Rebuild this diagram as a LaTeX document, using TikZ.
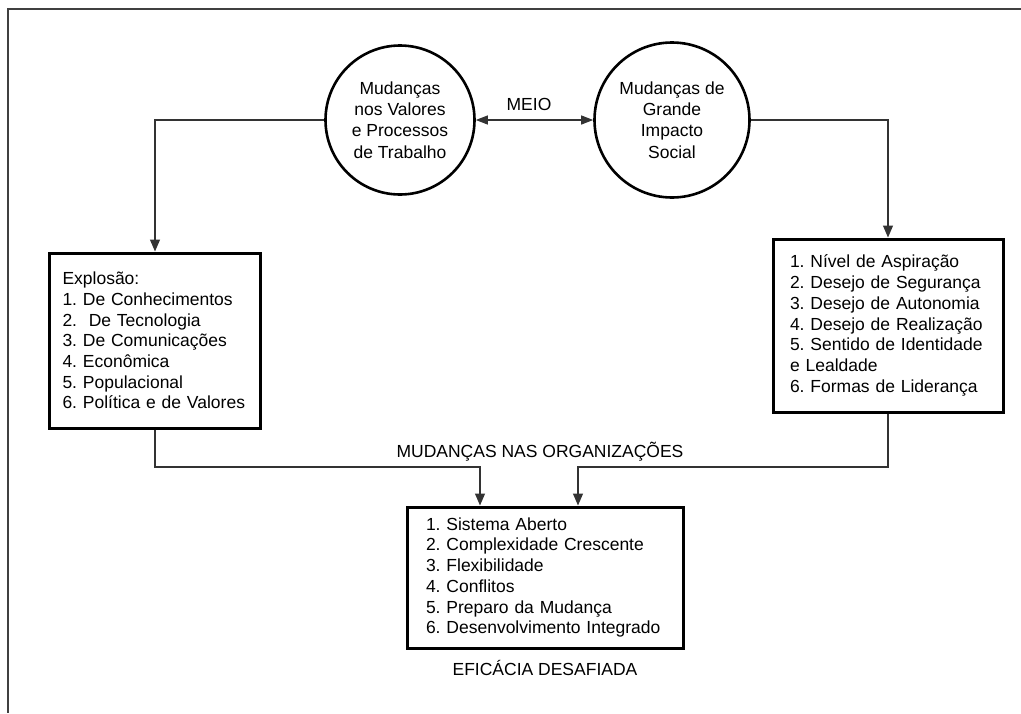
\documentclass[tikz,border=0pt]{standalone}
\usepackage{fontspec}
\setmainfont{Liberation Sans}
\usetikzlibrary{arrows.meta}
\frenchspacing
\tikzset{
  boxnode/.style={draw=black, line width=3pt, rectangle, align=left, font=\frenchspacing\fontsize{17.5}{20.7}\selectfont},
  circnode/.style={draw=black, line width=2.6pt, circle, align=center, inner sep=0pt, font=\frenchspacing\fontsize{17.5}{21.3}\selectfont},
  lbl/.style={font=\fontsize{17.5}{20.7}\selectfont, inner sep=0pt, anchor=base},
  conn/.style={draw=black!80, line width=1.1pt},
  tip/.style={-{Triangle[length=12pt,width=10pt]}},
  frameline/.style={draw=black!75, line width=1.4pt}
}
\begin{document}
\begin{tikzpicture}[x=1pt,y=-1pt]
\useasboundingbox (0,0) rectangle (1021,713);
\draw[frameline] (1021,9) -- (8,9) -- (8,713);

\node[circnode, minimum size=149pt] (c1) at (400,120) {Mudanças\\nos Valores\\e Processos\\de Trabalho};
\node[circnode, minimum size=155pt] (c2) at (672,120) {Mudanças de\\Grande\\Impacto\\Social};

\node[boxnode, minimum width=211pt, minimum height=175pt, inner xsep=13pt, text width=185pt] (b1) at (155,340.5)
  {Explosão:\\1. De Conhecimentos\\2.\ \ De Tecnologia\\3. De Comunicações\\4. Econômica\\5. Populacional\\6. Política e de Valores};
\node[boxnode, minimum width=230pt, minimum height=173pt, inner xsep=17pt, text width=196pt] (b2) at (888,325.5)
  {1. Nível de Aspiração\\2. Desejo de Segurança\\3. Desejo de Autonomia\\4. Desejo de Realização\\5. Sentido de Identidade\\e Lealdade\\6. Formas de Liderança};
\node[boxnode, minimum width=276pt, minimum height=141pt, inner xsep=19pt, text width=238pt] (b3) at (545,577.5)
  {1. Sistema Aberto\\2. Complexidade Crescente\\3. Flexibilidade\\4. Conflitos\\5. Preparo da Mudança\\6. Desenvolvimento Integrado};

\node[lbl] (meio) at (529,110) {MEIO};
\node[lbl] (org) at (540,457) {MUDANÇAS NAS ORGANIZAÇÕES};
\node[lbl] (efic) at (545,675) {EFICÁCIA DESAFIADA};

\draw[conn, {Triangle[length=12pt,width=9pt]}-{Triangle[length=12pt,width=9pt]}] (c1.east) -- (c2.west);
\draw[conn, tip] (c1.west) -| (b1.north);
\draw[conn, tip] (c2.east) -| (b2.north);

\coordinate (j1) at (480,467);
\coordinate (j2) at (578,467);
\draw[conn, tip] (b1.south) |- (j1) -- (j1 |- b3.north);
\draw[conn, tip] (b2.south) |- (j2) -- (j2 |- b3.north);
\end{tikzpicture}
\end{document}
